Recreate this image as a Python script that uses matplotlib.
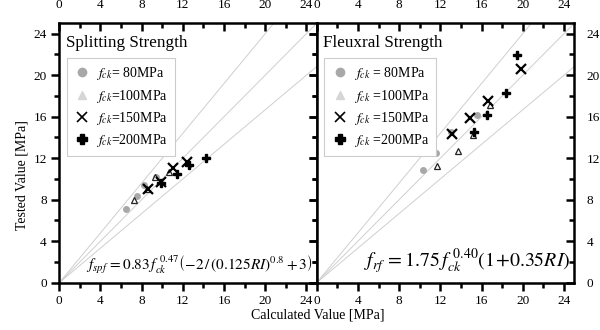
import matplotlib
matplotlib.use('Agg')
import matplotlib.pyplot as plt
from matplotlib.lines import Line2D
import numpy as np

plt.rcParams['font.family'] = ['Liberation Serif', 'DejaVu Serif']
plt.rcParams['mathtext.fontset'] = 'stix'

# Splitting strength (calculated, tested)
sp_80_x = [6.5, 7.55, 8.2, 9.4]
sp_80_y = [7.15, 8.4, 9.45, 10.15]
sp_100_x = [7.3, 8.55, 9.3, 10.65]
sp_100_y = [8.0, 9.05, 10.15, 10.65]
sp_150_x = [8.65, 9.9, 11.0, 12.4]
sp_150_y = [9.05, 9.75, 11.1, 11.6]
sp_200_x = [9.9, 11.45, 12.55, 14.2]
sp_200_y = [9.65, 10.5, 11.35, 12.0]

# Flexural strength
fl_80_x = [10.3, 11.55, 13.0, 15.55]
fl_80_y = [10.9, 12.5, 14.5, 16.2]
fl_100_x = [11.7, 13.75, 15.2, 16.8]
fl_100_y = [11.25, 12.7, 14.2, 17.15]
fl_150_x = [13.15, 14.9, 16.6, 19.8]
fl_150_y = [14.3, 15.85, 17.5, 20.6]
fl_200_x = [15.3, 16.5, 18.4, 19.4]
fl_200_y = [14.5, 16.2, 18.3, 21.9]

labels_sp = [r'$f_{ck}$= 80MPa', r'$f_{ck}$=100MPa', r'$f_{ck}$=150MPa', r'$f_{ck}$=200MPa']
labels_fl = [r'$f_{ck}$ = 80MPa', r'$f_{ck}$ =100MPa', r'$f_{ck}$ =150MPa', r'$f_{ck}$ =200MPa']
slopes = [1.2, 1.0, 1 / 1.2]

fig = plt.figure(figsize=(6, 3.3), dpi=100)
W, H = 600, 330
ax1 = fig.add_axes([59.3 / W, 1 - 282.7 / H, 257.4 / W, 259.4 / H])
ax2 = fig.add_axes([316.7 / W, 1 - 282.7 / H, 257.6 / W, 259.4 / H])


def draw(ax, d, labels):
    xx = np.array([0, 25])
    for s in slopes:
        ax.plot(xx, s * xx, color='#cfcfcf', lw=0.7, zorder=1)
    (x80, y80), (x100, y100), (x150, y150), (x200, y200) = d
    ax.plot(x80, y80, 'o', color='#a8a8a8', ms=5, mec='none', zorder=2)
    ax.plot(x100, y100, '^', mfc='white', mec='#222222', mew=0.9, ms=4.5, zorder=3)
    ax.plot(x150, y150, 'x', color='black', mew=1.6, ms=6.5, zorder=4)
    ax.plot(x200, y200, 'P', color='black', mec='black', ms=5.5, zorder=5)
    handles = [
        Line2D([], [], ls='none', marker='o', color='#a8a8a8', mec='none', ms=7),
        Line2D([], [], ls='none', marker='^', color='#d6d6d6', mec='#d6d6d6', ms=6),
        Line2D([], [], ls='none', marker='x', color='black', mew=1.2, ms=7),
        Line2D([], [], ls='none', marker='P', color='black', ms=7),
    ]
    leg = ax.legend(handles, labels, loc='upper left', bbox_to_anchor=(0.03, 0.865),
                    fontsize=10, frameon=True, fancybox=False, framealpha=1,
                    edgecolor='#cccccc', handletextpad=0.4, labelspacing=0.38,
                    borderpad=0.5, handlelength=1.2, borderaxespad=0)
    leg.get_frame().set_linewidth(0.8)

    ax.set_xlim(0, 25)
    ax.set_ylim(0, 25)
    ax.set_xticks(range(0, 25, 4))
    ax.set_yticks(range(0, 25, 4))
    ax.set_xticks(range(0, 25, 2), minor=True)
    ax.set_yticks(range(0, 25, 2), minor=True)
    for sp in ax.spines.values():
        sp.set_linewidth(1.8)
    ax.tick_params(which='major', length=6, width=1.8, labelsize=9.5, pad=3)
    ax.tick_params(which='minor', length=3.5, width=1.8)
    ax.tick_params(which='both', direction='out', bottom=True, top=True,
                   left=True, right=True, labelbottom=True, labeltop=True)
    # top and right ticks point inward
    for tl in ax.xaxis.get_majorticklines()[1::2] + ax.xaxis.get_minorticklines()[1::2]:
        tl.set_marker(3)
    for tl in ax.yaxis.get_majorticklines()[1::2] + ax.yaxis.get_minorticklines()[1::2]:
        tl.set_marker(0)


draw(ax1, [(sp_80_x, sp_80_y), (sp_100_x, sp_100_y), (sp_150_x, sp_150_y), (sp_200_x, sp_200_y)], labels_sp)
draw(ax2, [(fl_80_x, fl_80_y), (fl_100_x, fl_100_y), (fl_150_x, fl_150_y), (fl_200_x, fl_200_y)], labels_fl)

ax1.tick_params(labelleft=True, labelright=False)
ax2.tick_params(labelleft=False, labelright=True)

ax1.text(0.025, 0.955, 'Splitting Strength', transform=ax1.transAxes, fontsize=12.3, va='top', ha='left')
ax2.text(0.025, 0.955, 'Fleuxral Strength', transform=ax2.transAxes, fontsize=12.3, va='top', ha='left')

ax1.text(0.985, 0.025, r'$f_{spf}\,=0.83\,f_{ck}^{\ 0.47}\left(-2\,/\,(0.125RI)^{0.8}+3\right)$',
         transform=ax1.transAxes, fontsize=11, ha='right', va='bottom')
ax2.text(0.985, 0.025, r'$f_{rf}\,=1.75\,f_{ck}^{\ 0.40}\left(1\!+\!0.35RI\right)$',
         transform=ax2.transAxes, fontsize=14.3, ha='right', va='bottom')

fig.text(0.53, 0.025, 'Calculated Value [MPa]', ha='center', va='bottom', fontsize=10)
fig.text(0.025, 0.47, 'Tested Value [MPa]', ha='left', va='center', rotation=90, fontsize=10)

fig.savefig('out.png', dpi=100)
